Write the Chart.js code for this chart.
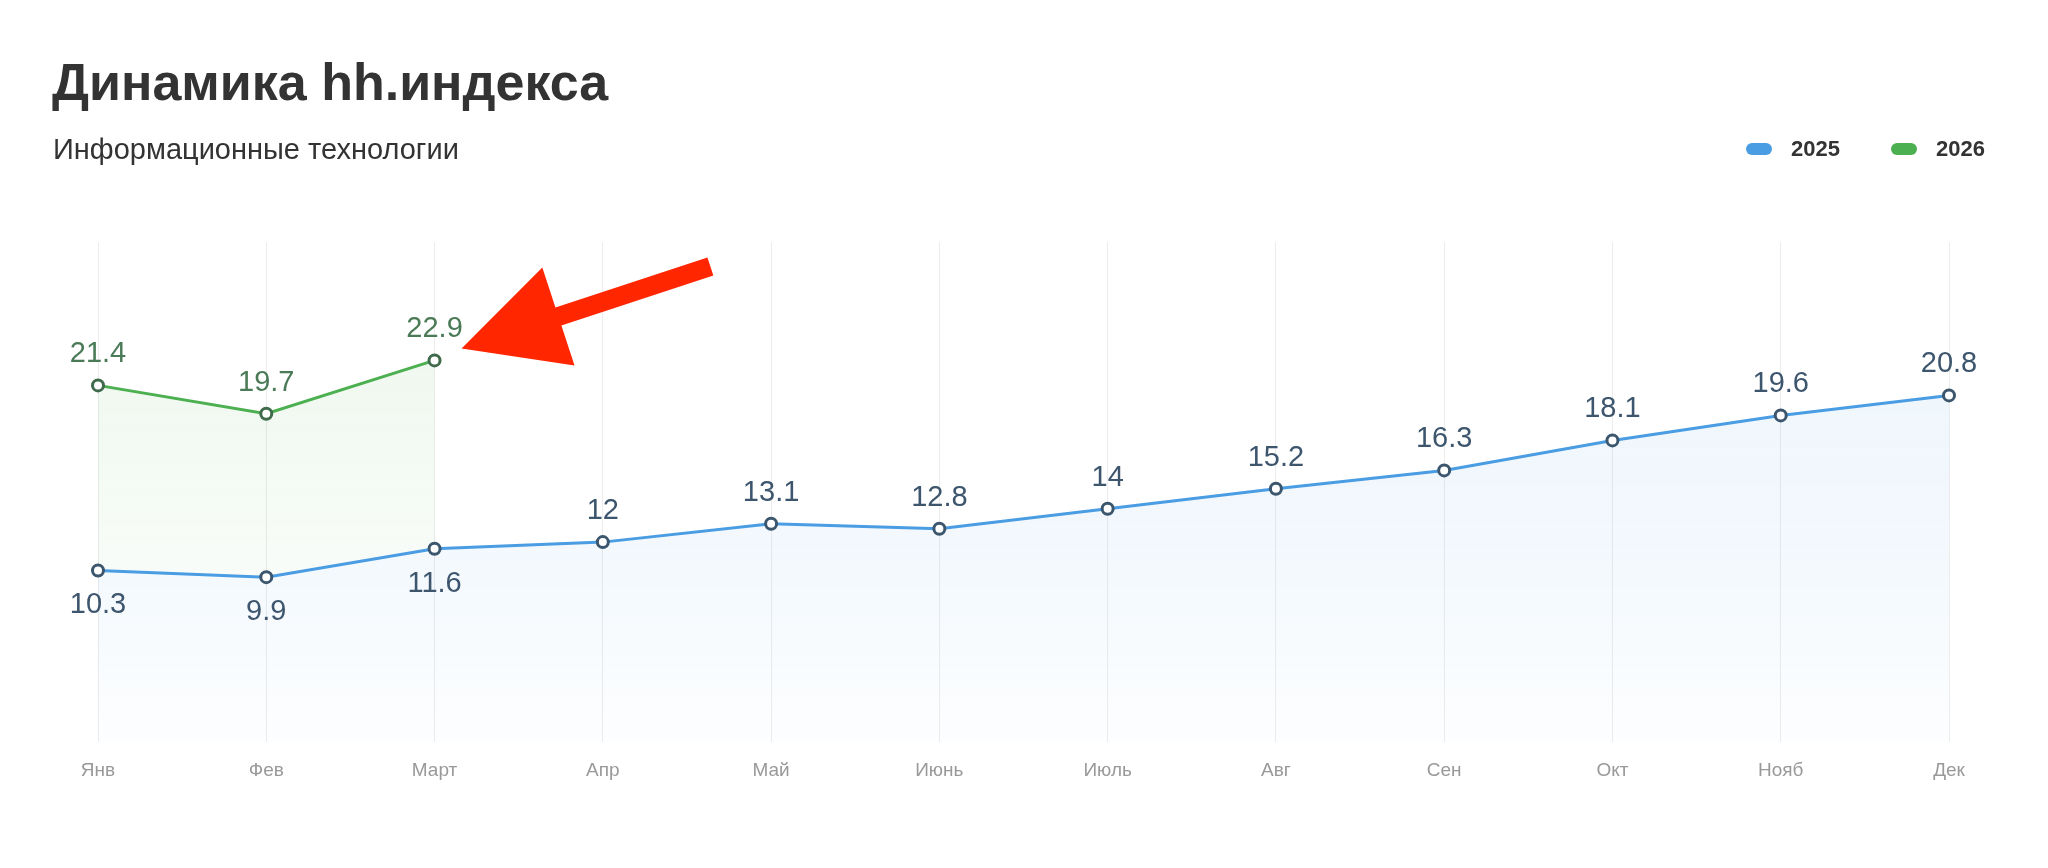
<!DOCTYPE html>
<html lang="ru">
<head>
<meta charset="utf-8">
<title>Динамика hh.индекса</title>
<script src="https://cdn.jsdelivr.net/npm/chart.js@4.4.1/dist/chart.umd.min.js"></script>
<style>
  html, body { margin: 0; padding: 0; background: #fff; }
  body { width: 2048px; height: 868px; position: relative; overflow: hidden; font-family: "Liberation Sans", Arial, sans-serif; color: #333; }
  .chart-wrap { position: absolute; left: 0; top: 0; width: 2048px; height: 868px; }
  .chart-title { position: absolute; left: 52px; top: 56px; margin: 0; font-size: 52px; line-height: 52px; font-weight: bold; color: #333; }
  .chart-subtitle { position: absolute; left: 53px; top: 135px; margin: 0; font-size: 29px; line-height: 29px; font-weight: normal; color: #333; }
  #legend { position: absolute; right: 63px; top: 137px; height: 24px; display: flex; align-items: center; }
  .legend-item { display: flex; align-items: center; margin-left: 51px; font-size: 22px; line-height: 24px; font-weight: bold; color: #333; }
  .legend-item:first-child { margin-left: 0; }
  .legend-box { width: 26px; height: 12px; border-radius: 6px; margin-right: 19px; }
</style>
</head>
<body>
<div class="chart-wrap"><canvas id="chart"></canvas></div>
<h1 class="chart-title">Динамика hh.индекса</h1>
<h2 class="chart-subtitle">Информационные технологии</h2>
<div id="legend"></div>

<script>
const months = ['Янв', 'Фев', 'Март', 'Апр', 'Май', 'Июнь', 'Июль', 'Авг', 'Сен', 'Окт', 'Нояб', 'Дек'];
const seriesNames = ['2025', '2026'];
const values2025 = [10.3, 9.9, 11.6, 12, 13.1, 12.8, 14, 15.2, 16.3, 18.1, 19.6, 20.8];
const values2026 = [21.4, 19.7, 22.9];

Chart.defaults.font.family = '"Liberation Sans", Arial, sans-serif';

function fadeFill(rgb, stops) {
  return (context) => {
    const {ctx, chartArea} = context.chart;
    if (!chartArea) return null;
    const g = ctx.createLinearGradient(0, chartArea.top, 0, chartArea.bottom);
    stops.forEach(([at, a]) => g.addColorStop(at, 'rgba(' + rgb + ',' + a + ')'));
    return g;
  };
}

// numbers next to each point
const valueLabels = {
  id: 'valueLabels',
  afterDatasetsDraw(chart, args, opts) {
    const ctx = chart.ctx;
    ctx.save();
    ctx.font = opts.size + 'px "Liberation Sans", Arial, sans-serif';
    ctx.textAlign = 'center';
    ctx.textBaseline = 'middle';
    chart.data.datasets.forEach((ds, i) => {
      chart.getDatasetMeta(i).data.forEach((pt, j) => {
        const v = ds.data[j];
        if (v == null) return;
        // 2025 goes under its point where the 2026 line runs above it
        const below = i === 0 && chart.data.datasets[1].data[j] != null;
        ctx.fillStyle = opts.colors[i];
        ctx.fillText(String(v), pt.x, below ? pt.y + opts.below : pt.y - opts.above);
      });
    });
    ctx.restore();
  }
};

// red arrow pointing at the latest 2026 value
const arrowPointer = {
  id: 'arrowPointer',
  afterDatasetsDraw(chart, args, opts) {
    const meta = chart.getDatasetMeta(opts.datasetIndex);
    const pt = meta.data[meta.data.length - 1];
    if (!pt) return;
    const tx = pt.x + opts.dx, ty = pt.y + opts.dy;
    const a = Math.atan2(opts.dirY, opts.dirX);
    const ux = Math.cos(a), uy = Math.sin(a);
    const nx = -uy, ny = ux;
    const bx = tx + ux * opts.head, by = ty + uy * opts.head;
    const ex = tx + ux * opts.length, ey = ty + uy * opts.length;
    const h = opts.headWidth / 2, s = opts.shaftWidth / 2;
    const ctx = chart.ctx;
    ctx.save();
    ctx.fillStyle = opts.color;
    ctx.beginPath();
    ctx.moveTo(tx, ty);
    ctx.lineTo(bx + nx * h, by + ny * h);
    ctx.lineTo(bx + nx * s, by + ny * s);
    ctx.lineTo(ex + nx * s, ey + ny * s);
    ctx.lineTo(ex - nx * s, ey - ny * s);
    ctx.lineTo(bx - nx * s, by - ny * s);
    ctx.lineTo(bx - nx * h, by - ny * h);
    ctx.closePath();
    ctx.fill();
    ctx.restore();
  }
};

const chart = new Chart(document.getElementById('chart'), {
  type: 'line',
  data: {
    labels: months,
    datasets: [
      {
        label: seriesNames[0],
        data: values2025,
        borderColor: '#4a9de2',
        borderWidth: 3,
        fill: 'origin',
        backgroundColor: fadeFill('74,157,226', [[0, 0.10], [0.6, 0.07], [1, 0.01]]),
        pointRadius: 5.5,
        pointBorderWidth: 3,
        pointBackgroundColor: '#fff',
        pointBorderColor: '#3b566d',
        tension: 0
      },
      {
        label: seriesNames[1],
        data: values2026,
        borderColor: '#4caf50',
        borderWidth: 3,
        fill: '-1',
        backgroundColor: fadeFill('76,175,80', [[0, 0.11], [0.4, 0.07], [0.7, 0.03]]),
        pointRadius: 5.5,
        pointBorderWidth: 3,
        pointBackgroundColor: '#fff',
        pointBorderColor: '#3f6a4c',
        tension: 0
      }
    ]
  },
  options: {
    responsive: true,
    maintainAspectRatio: false,
    animation: false,
    layout: { padding: { top: 242, left: 98, right: 99, bottom: 69 } },
    plugins: {
      legend: { display: false },
      tooltip: { enabled: false },
      valueLabels: { size: 29, above: 31, below: 35, colors: ['#3d566e', '#4b7a57'] },
      arrowPointer: {
        datasetIndex: 1, dx: 27, dy: -12, dirX: 249, dirY: -82,
        length: 262, head: 102, headWidth: 103, shaftWidth: 19, color: '#ff2600'
      }
    },
    scales: {
      x: {
        grid: { color: '#ececec', drawTicks: false },
        border: { display: false },
        ticks: { color: '#999', font: { size: 19 }, padding: 17, maxRotation: 0, autoSkip: false }
      },
      y: { display: false, min: 0, max: 30 }
    }
  },
  plugins: [valueLabels, arrowPointer]
});

// html legend built from the datasets
const legendEl = document.getElementById('legend');
chart.data.datasets.forEach((ds) => {
  const item = document.createElement('div');
  item.className = 'legend-item';
  const box = document.createElement('span');
  box.className = 'legend-box';
  box.style.background = ds.borderColor;
  item.appendChild(box);
  item.appendChild(document.createTextNode(ds.label));
  legendEl.appendChild(item);
});
</script>
</body>
</html>
